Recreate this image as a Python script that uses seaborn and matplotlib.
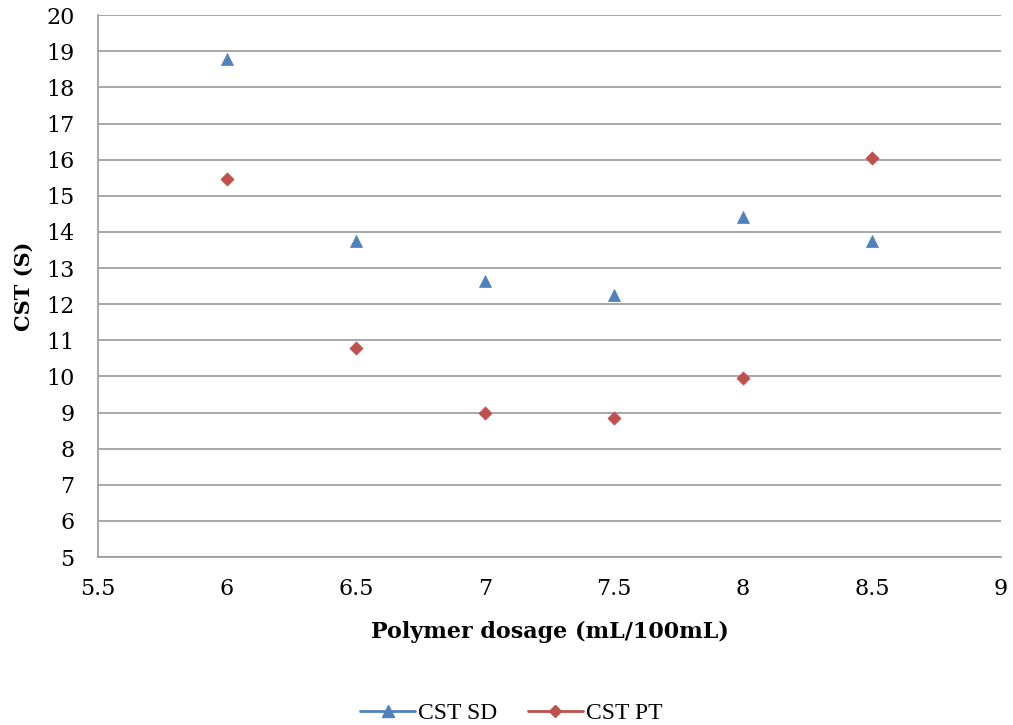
import matplotlib
matplotlib.use("Agg")
import matplotlib.pyplot as plt
from matplotlib.lines import Line2D
import seaborn as sns
import pandas as pd

dosage = [6, 6.5, 7, 7.5, 8, 8.5]
cst_sd = [18.78, 13.75, 12.64, 12.25, 14.41, 13.75]
cst_pt = [15.46, 10.78, 8.98, 8.85, 9.95, 16.04]
series_names = ["CST SD", "CST PT"]
colors = ["#4F81BD", "#C0504D"]
markers = ["^", "D"]

sns.set_theme(style="white")
plt.rcParams['font.family'] = ['DejaVu Serif']
plt.rcParams['text.color'] = 'black'
plt.rcParams['axes.labelcolor'] = 'black'

fig = plt.figure(figsize=(10.13, 7.25), dpi=100)
ax = fig.add_axes([0.0967, 0.2317, 0.8915, 0.7473])

df = pd.DataFrame({
    "dosage": dosage * 2,
    "cst": cst_sd + cst_pt,
    "series": [series_names[0]] * len(dosage) + [series_names[1]] * len(dosage),
})

for name, col, mk, size in zip(series_names, colors, markers, [75, 45]):
    sub = df[df["series"] == name]
    sns.scatterplot(data=sub, x="dosage", y="cst", ax=ax, color=col, marker=mk,
                    s=size, edgecolor=col, linewidth=0.5, zorder=3, legend=False)

ax.set_xlim(5.5, 9)
ax.set_ylim(5, 20)
ax.set_xticks([5.5, 6, 6.5, 7, 7.5, 8, 8.5, 9])
ax.set_xticklabels(["5.5", "6", "6.5", "7", "7.5", "8", "8.5", "9"])
ax.set_yticks(range(5, 21))
ax.yaxis.grid(True, color="#A0A0A0", linewidth=1.3)
ax.xaxis.grid(False)
ax.set_axisbelow(True)
for s in ["top", "right"]:
    ax.spines[s].set_visible(False)
for s in ["left", "bottom"]:
    ax.spines[s].set_color("#A0A0A0")
    ax.spines[s].set_linewidth(1.3)
ax.tick_params(axis="both", length=0, labelsize=16, colors="black")
ax.tick_params(axis="y", pad=17)
ax.tick_params(axis="x", pad=15)

ax.set_xlabel("Polymer dosage (mL/100mL)", fontsize=16, fontweight="bold",
              family="DejaVu Serif", labelpad=15, color="black")
ax.set_ylabel("CST (S)", fontsize=15, fontweight="bold", family="DejaVu Serif",
              labelpad=9, color="black")

handles = [Line2D([0], [0], color=c, marker=m, markersize=ms, linewidth=2)
           for c, m, ms in zip(colors, markers, [8, 6])]
fig.legend(handles, series_names, loc="center", bbox_to_anchor=(0.505, 0.016),
           ncol=2, frameon=False, handlelength=2.3, columnspacing=1.3,
           handletextpad=0.15, prop={"family": "Liberation Serif", "size": 17})

fig.savefig("out.png", dpi=100)
